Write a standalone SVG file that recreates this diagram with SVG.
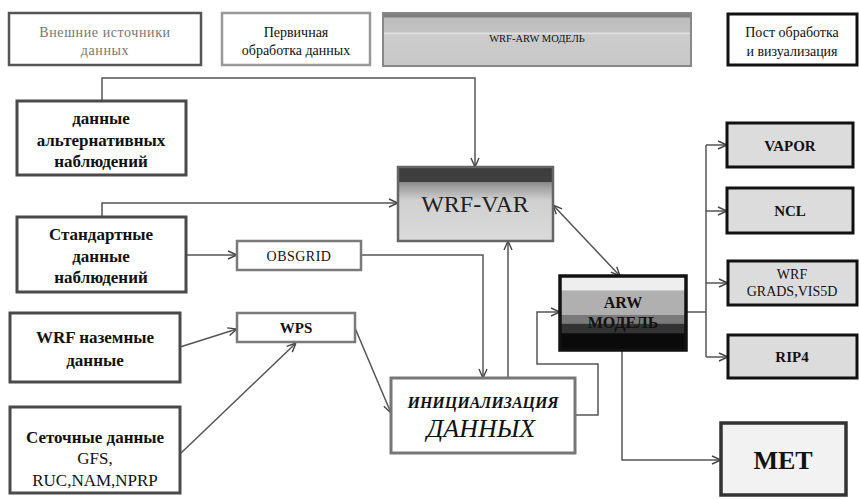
<svg xmlns="http://www.w3.org/2000/svg" width="859" height="499" viewBox="0 0 859 499" font-family="Liberation Serif, serif" text-anchor="middle">
<defs>
<style>
.src{fill:#fff;stroke:#4a4a4a;stroke-width:3}
.proc{fill:#fff;stroke:#7a7a7a;stroke-width:2.5}
.post{fill:#dcdcdc;stroke:#111;stroke-width:3}
.c{fill:none;stroke:#555;stroke-width:1.5}
</style>
<marker id="a" viewBox="0 0 10 10" refX="10" refY="5" markerWidth="10" markerHeight="10" markerUnits="userSpaceOnUse" orient="auto-start-reverse">
<path d="M1,1 L10,5 L1,9" fill="none" stroke="#444" stroke-width="1.4"/>
</marker>
<linearGradient id="gvar" x1="0" y1="0" x2="0" y2="1">
<stop offset="0" stop-color="#3c3c3c"/>
<stop offset="0.2" stop-color="#404040"/>
<stop offset="0.21" stop-color="#8c8c8c"/>
<stop offset="0.3" stop-color="#a8a8a8"/>
<stop offset="0.45" stop-color="#d0d0d0"/>
<stop offset="1" stop-color="#dadada"/>
</linearGradient>
<linearGradient id="garw" x1="0" y1="0" x2="0" y2="1">
<stop offset="0" stop-color="#eeeeee"/>
<stop offset="0.19" stop-color="#eeeeee"/>
<stop offset="0.2" stop-color="#b0b0b0"/>
<stop offset="0.52" stop-color="#b0b0b0"/>
<stop offset="0.53" stop-color="#7a7a7a"/>
<stop offset="0.64" stop-color="#7a7a7a"/>
<stop offset="0.65" stop-color="#333"/>
<stop offset="0.77" stop-color="#333"/>
<stop offset="0.78" stop-color="#0a0a0a"/>
<stop offset="1" stop-color="#0a0a0a"/>
</linearGradient>
<linearGradient id="gleg" x1="0" y1="0" x2="0" y2="1">
<stop offset="0" stop-color="#808080"/>
<stop offset="0.08" stop-color="#808080"/>
<stop offset="0.09" stop-color="#bdbdbd"/>
<stop offset="0.36" stop-color="#c2c2c2"/>
<stop offset="0.38" stop-color="#e6e6e6"/>
<stop offset="0.41" stop-color="#cccccc"/>
<stop offset="1" stop-color="#c8c8c8"/>
</linearGradient>
</defs>

<g id="legend" fill="#111">
<g id="leg-ext">
<rect x="9" y="13" width="192" height="52" fill="#fff" stroke="#555" stroke-width="2.5"/>
<text x="105" y="37" font-size="14" fill="#777" letter-spacing="0.6">Внешние источники</text>
<text x="105" y="55" font-size="14" fill="#777" letter-spacing="0.6">данных</text>
</g>
<g id="leg-pre">
<rect x="222" y="13" width="148" height="52" fill="#fff" stroke="#999" stroke-width="2.5"/>
<text x="296" y="37" font-size="14">Первичная</text>
<text x="296" y="55" font-size="14">обработка данных</text>
</g>
<g id="leg-model">
<rect x="383" y="13" width="308" height="53" fill="url(#gleg)" stroke="#888" stroke-width="2"/>
<text x="537" y="42" font-size="10.5">WRF-ARW МОДЕЛЬ</text>
</g>
<g id="leg-post">
<rect x="728" y="14" width="129" height="51" fill="#fff" stroke="#111" stroke-width="3"/>
<text x="792" y="37" font-size="14">Пост обработка</text>
<text x="792" y="56" font-size="14">и визуализация</text>
</g>
</g>

<g id="connectors">
<path class="c" d="M102,101 V78 H475 V167" marker-end="url(#a)"/>
<path class="c" d="M102,217 V203 H398" marker-end="url(#a)"/>
<path class="c" d="M186,255 H237" marker-end="url(#a)"/>
<path class="c" d="M362,255 H483 V378" marker-end="url(#a)"/>
<path class="c" d="M508,378 V241" marker-end="url(#a)"/>
<path class="c" d="M180,347 L237,329" marker-end="url(#a)"/>
<path class="c" d="M180,454 L296,343" marker-end="url(#a)"/>
<path class="c" d="M355,328 L391,413" marker-end="url(#a)"/>
<path class="c" d="M575,415 H598 V364 H537 V312 H560" marker-end="url(#a)"/>
<path class="c" d="M553,205 L620,276" marker-start="url(#a)" marker-end="url(#a)"/>
<path class="c" d="M686,312 H706"/>
<path class="c" d="M706,145 V357"/>
<path class="c" d="M706,145 H727" marker-end="url(#a)"/>
<path class="c" d="M706,211 H727" marker-end="url(#a)"/>
<path class="c" d="M706,283 H728" marker-end="url(#a)"/>
<path class="c" d="M706,357 H728" marker-end="url(#a)"/>
<path class="c" d="M622,350 V460 H721" marker-end="url(#a)"/>
</g>

<g id="alt-obs" fill="#111" font-weight="bold" font-size="17">
<rect class="src" x="17" y="101" width="169" height="74"/>
<text x="101" y="124">данные</text>
<text x="101" y="146">альтернативных</text>
<text x="101" y="167">наблюдений</text>
</g>
<g id="std-obs" fill="#111" font-weight="bold" font-size="17">
<rect class="src" x="17" y="217" width="169" height="75"/>
<text x="101" y="240">Стандартные</text>
<text x="101" y="262">данные</text>
<text x="101" y="283">наблюдений</text>
</g>
<g id="wrf-ground" fill="#111" font-weight="bold" font-size="17">
<rect class="src" x="10" y="313" width="170" height="69"/>
<text x="95" y="343">WRF наземные</text>
<text x="95" y="366">данные</text>
</g>
<g id="grid-data" fill="#111" font-size="17">
<rect class="src" x="10" y="407" width="170" height="86"/>
<text x="95" y="443" font-weight="bold">Сеточные данные</text>
<text x="95" y="464">GFS,</text>
<text x="95" y="486">RUC,NAM,NPRP</text>
</g>

<g id="obsgrid" fill="#111">
<rect class="proc" x="237" y="241" width="124" height="29"/>
<text x="299" y="261" font-size="14" letter-spacing="0.5">OBSGRID</text>
</g>
<g id="wps" fill="#111">
<rect class="proc" x="237" y="313" width="118" height="29"/>
<text x="296" y="333" font-size="15" font-weight="bold">WPS</text>
</g>

<g id="wrf-var" fill="#222">
<rect x="398" y="167" width="155" height="74" fill="url(#gvar)" stroke="#666" stroke-width="2.5"/>
<text x="475" y="212" font-size="24">WRF-VAR</text>
</g>

<g id="init" fill="#111">
<rect x="391" y="378" width="184" height="75" fill="#fff" stroke="#777" stroke-width="3"/>
<text x="483" y="408" font-size="16" font-style="italic" font-weight="bold">ИНИЦИАЛИЗАЦИЯ</text>
<text x="481" y="437" font-size="26" font-style="italic">ДАННЫХ</text>
</g>

<g id="arw" fill="#111">
<rect x="560" y="276" width="126" height="74" fill="url(#garw)" stroke="#111" stroke-width="3.5"/>
<text x="623" y="308" font-size="16" font-weight="bold">ARW</text>
<text x="623" y="328" font-size="16" font-weight="bold">МОДЕЛЬ</text>
</g>

<g id="vapor" fill="#111" font-weight="bold" font-size="15">
<rect class="post" x="727" y="123" width="126" height="44"/>
<text x="790" y="151">VAPOR</text>
</g>
<g id="ncl" fill="#111" font-weight="bold" font-size="15">
<rect class="post" x="727" y="188" width="126" height="45"/>
<text x="790" y="216">NCL</text>
</g>
<g id="wrf-grads" fill="#111" font-size="14">
<rect class="post" x="728" y="261" width="129" height="44"/>
<text x="792" y="279">WRF</text>
<text x="792" y="296">GRADS,VIS5D</text>
</g>
<g id="rip4" fill="#111" font-weight="bold" font-size="15">
<rect class="post" x="728" y="335" width="129" height="43"/>
<text x="792" y="362">RIP4</text>
</g>
<g id="met" fill="#111">
<rect x="721" y="423" width="125" height="72" fill="#f2f2f2" stroke="#333" stroke-width="3.5"/>
<text x="783" y="469" font-size="26" font-weight="bold">MET</text>
</g>
</svg>
